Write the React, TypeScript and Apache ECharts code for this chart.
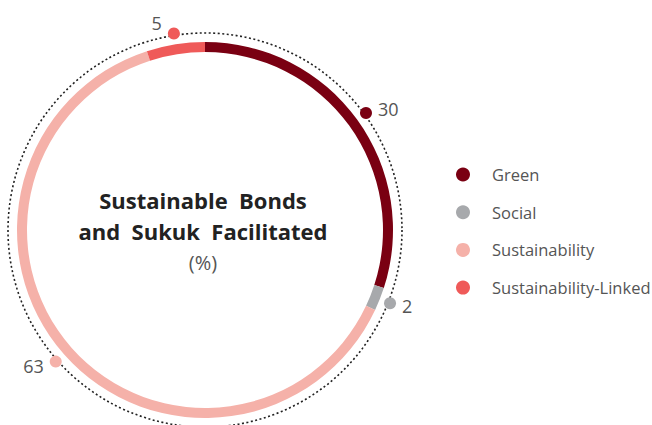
import React, { useEffect, useRef } from "react";
import * as echarts from "echarts";

const categories = ["Green", "Social", "Sustainability", "Sustainability-Linked"];
const values = [30, 2, 63, 5];
const colors = ["#7a0012", "#a7a9ac", "#f5b1a9", "#ef5a59"];
const titleLines = ["Sustainable  Bonds", "and  Sukuk  Facilitated"];
const unitText = "(%)";
const labelSides = ["right", "right", "left", "left"];
const labelOffsets = [[0, -4], [0, 3], [0, 4], [0, -10]];

export default function App() {
  const ref = useRef<HTMLDivElement>(null);
  useEffect(() => {
    if (!ref.current) return;
    const chart = echarts.init(ref.current, undefined, { renderer: "svg" });
    const total = values.reduce((a, b) => a + b, 0);
    let acc = 0;
    const mids = values.map((v) => {
      const m = ((acc + v / 2) / total) * 100;
      acc += v;
      return m;
    });
    const cx = 205;
    const cy = 230;
    const font = "'Open Sans', 'Noto Sans', sans-serif";
    chart.setOption({
      animation: false,
      textStyle: { fontFamily: font },
      legend: {
        orient: "vertical",
        left: 451,
        top: 161,
        icon: "circle",
        itemWidth: 14,
        itemHeight: 14,
        itemGap: 20.7,
        data: categories,
        textStyle: {
          fontFamily: font,
          fontSize: 16.5,
          color: "#555",
          padding: [0, 0, 0, 17],
        },
      },
      polar: { center: [cx, cy], radius: 199 },
      angleAxis: {
        type: "value",
        min: 0,
        max: 100,
        startAngle: 90,
        clockwise: true,
        show: false,
      },
      radiusAxis: { type: "value", min: 0, max: 1, show: false },
      graphic: [
        {
          type: "circle",
          shape: { cx, cy, r: 197 },
          style: { fill: "none", stroke: "#222", lineWidth: 1.6, lineDash: [2, 2.5] },
          z: 1,
        },
        {
          type: "text",
          x: cx - 2,
          y: 200,
          style: {
            text: titleLines[0],
            font: `bold 22px ${font}`,
            fill: "#222",
            textAlign: "center",
            textVerticalAlign: "middle",
          },
        },
        {
          type: "text",
          x: cx - 2,
          y: 231,
          style: {
            text: titleLines[1],
            font: `bold 22px ${font}`,
            fill: "#222",
            textAlign: "center",
            textVerticalAlign: "middle",
          },
        },
        {
          type: "text",
          x: cx - 2,
          y: 262,
          style: {
            text: unitText,
            font: `20px ${font}`,
            fill: "#555",
            textAlign: "center",
            textVerticalAlign: "middle",
          },
        },
      ],
      series: [
        {
          type: "pie",
          center: [cx, cy],
          radius: [178, 188],
          startAngle: 90,
          clockwise: true,
          silent: true,
          label: { show: false },
          labelLine: { show: false },
          itemStyle: { borderWidth: 0 },
          data: categories.map((c, i) => ({
            name: c,
            value: values[i],
            itemStyle: { color: colors[i] },
          })),
          z: 2,
        },
        {
          type: "scatter",
          coordinateSystem: "polar",
          symbol: "circle",
          symbolSize: 12,
          silent: true,
          z: 5,
          data: categories.map((c, i) => ({
            name: c,
            value: [1, mids[i]],
            itemStyle: { color: colors[i], opacity: 1 },
            label: {
              show: true,
              position: labelSides[i],
              offset: labelOffsets[i],
              distance: 6,
              formatter: String(values[i]),
              fontFamily: font,
              fontSize: 18,
              color: "#555",
            },
          })),
        },
      ],
    });
    return () => chart.dispose();
  }, []);
  return (
    <div
      ref={ref}
      style={{ position: "fixed", left: 0, top: 0, width: 652, height: 425, background: "#fff" }}
    />
  );
}
